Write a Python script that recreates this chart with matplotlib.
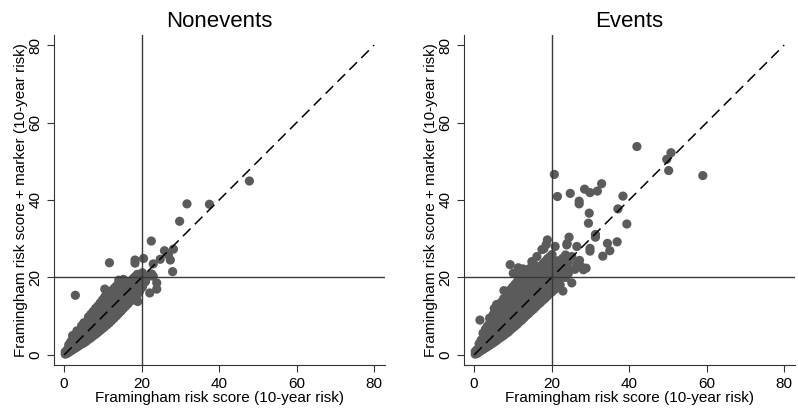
import matplotlib
matplotlib.use("Agg")
import matplotlib.pyplot as plt

# Framingham risk (x) vs Framingham + marker (y), 10-year risk in %
nonevent_pts = [
    (0.3, 0.2), (0.3, 0.8), (0.8, 0.4), (0.8, 1.3),
    (1.2, 0.7), (1.2, 1.8), (1.2, 2.6), (1.7, 1.0), (1.7, 2.2), (1.7, 3.4),
    (2.2, 1.3), (2.2, 2.6), (2.2, 4.0), (2.2, 5.0), (2.8, 1.7), (2.8, 3.0), (2.8, 4.4),
    (3.3, 2.0), (3.3, 3.5), (3.3, 5.2), (3.3, 6.2), (3.9, 2.4), (3.9, 4.0), (3.9, 5.6),
    (4.5, 2.8), (4.5, 4.5), (4.5, 6.2), (4.5, 7.5), (5.1, 3.1), (5.1, 5.0), (5.1, 6.8), (5.1, 8.3),
    (5.7, 3.5), (5.7, 5.6), (5.7, 7.4), (6.3, 4.0), (6.3, 6.0), (6.3, 8.0), (6.3, 9.8),
    (6.9, 4.4), (6.9, 6.6), (6.9, 8.6), (6.9, 10.5), (7.5, 4.9), (7.5, 7.2), (7.5, 9.2), (7.5, 11.2),
    (8.1, 5.3), (8.1, 7.8), (8.1, 9.8), (8.1, 12.0), (8.7, 5.8), (8.7, 8.3), (8.7, 10.4), (8.7, 12.6),
    (9.3, 6.3), (9.3, 8.9), (9.3, 11.0), (9.3, 13.4), (9.9, 6.8), (9.9, 9.4), (9.9, 11.6), (9.9, 14.2),
    (10.5, 7.3), (10.5, 10.0), (10.5, 12.3), (10.5, 15.0), (10.5, 17.0),
    (11.1, 7.8), (11.1, 10.6), (11.1, 13.0), (11.1, 15.5), (11.7, 8.3), (11.7, 11.2), (11.7, 13.6), (11.7, 16.0),
    (12.3, 8.9), (12.3, 11.8), (12.3, 14.2), (12.3, 16.6), (12.9, 9.5), (12.9, 12.4), (12.9, 14.8), (12.9, 17.2),
    (13.5, 10.1), (13.5, 13.0), (13.5, 15.4), (13.5, 17.8), (14.1, 10.7), (14.1, 13.6), (14.1, 16.0), (14.1, 18.4),
    (14.1, 19.3), (14.7, 11.3), (14.7, 14.2), (14.7, 16.6), (14.7, 18.9),
    (15.3, 12.0), (15.3, 14.8), (15.3, 17.2), (15.3, 19.5), (15.9, 12.6), (15.9, 15.4), (15.9, 17.8),
    (16.5, 13.2), (16.5, 16.0), (16.5, 18.4), (17.1, 13.9), (17.1, 16.6), (17.1, 19.0),
    (17.7, 14.5), (17.7, 17.2), (17.7, 19.6), (18.3, 14.2), (18.3, 17.8), (18.3, 20.2),
    (18.9, 15.5), (18.9, 18.4), (18.9, 20.8), (19.5, 16.5), (19.5, 19.0),
    (1.0, 1.0), (1.5, 1.6), (2.0, 3.3), (2.5, 2.0), (2.5, 3.7), (3.0, 4.9), (3.6, 3.0), (3.6, 4.7),
    (4.2, 3.5), (4.2, 5.3), (4.8, 4.0), (4.8, 5.8), (4.8, 7.2), (5.4, 4.2), (5.4, 6.2),
    (6.0, 4.8), (6.0, 6.8), (6.0, 8.8), (6.6, 5.2), (6.6, 7.4), (6.6, 9.3), (7.2, 6.0), (7.2, 8.0),
    (7.2, 10.1), (7.8, 6.5), (7.8, 8.6), (7.8, 10.6), (8.4, 6.9), (8.4, 9.1), (8.4, 11.3),
    (9.0, 7.3), (9.0, 9.7), (9.0, 12.0), (9.6, 7.9), (9.6, 10.3), (9.6, 12.6), (10.2, 8.5), (10.2, 11.0),
    (10.2, 13.5), (10.8, 9.0), (10.8, 11.6), (10.8, 14.0), (11.4, 9.3), (11.4, 12.2), (11.4, 14.7),
    (12.0, 10.2), (12.0, 12.9), (12.0, 15.4), (12.6, 10.6), (12.6, 13.5), (12.6, 16.0),
    (13.2, 11.4), (13.2, 14.1), (13.2, 16.6), (13.8, 12.0), (13.8, 14.6), (13.8, 17.0),
    (14.4, 12.4), (14.4, 15.2), (14.4, 17.6), (15.0, 13.2), (15.0, 15.9), (15.0, 18.3),
    (15.6, 13.8), (15.6, 16.5), (15.6, 18.8), (16.2, 14.6), (16.2, 17.1), (16.8, 15.0), (16.8, 17.6),
    (17.4, 15.6), (17.4, 18.2), (18.0, 16.3), (18.0, 18.8), (18.6, 16.9), (18.6, 19.5),
    (19.2, 17.6), (19.8, 18.2), (19.0, 13.8),
    (20.2, 17.5), (20.2, 19.8), (20.2, 21.2), (20.8, 18.8), (21.0, 19.0), (21.6, 20.2),
    (22.1, 16.0), (22.6, 20.9), (23.9, 18.6), (23.9, 17.0), (23.0, 20.3),
    (2.9, 15.4), (11.7, 23.8), (18.3, 24.5), (18.3, 23.7), (20.5, 24.9), (22.5, 29.4),
    (23.0, 23.5), (24.8, 24.7), (25.9, 26.9), (28.2, 27.3), (26.9, 25.8), (27.4, 24.5),
    (28.0, 21.5), (29.8, 34.5), (31.7, 39.0), (37.5, 38.9), (47.8, 44.9),
]

event_pts = [
    (0.3, 0.2), (0.3, 0.9), (0.8, 0.4), (0.8, 1.4),
    (1.3, 0.8), (1.3, 1.9), (1.3, 2.9), (1.5, 9.0), (1.8, 1.1), (1.8, 2.4), (1.8, 3.8),
    (2.3, 1.4), (2.3, 2.9), (2.3, 4.4), (2.3, 5.6), (2.9, 1.8), (2.9, 3.4), (2.9, 5.0), (2.9, 6.6),
    (3.4, 2.1), (3.4, 3.9), (3.4, 5.7), (3.4, 7.4), (4.0, 2.5), (4.0, 4.4), (4.0, 6.3), (4.0, 8.2), (4.0, 9.5),
    (4.6, 2.9), (4.6, 4.9), (4.6, 6.9), (4.6, 8.8), (5.2, 3.3), (5.2, 5.5), (5.2, 7.6), (5.2, 9.6), (5.2, 12.0),
    (5.8, 3.7), (5.8, 6.0), (5.8, 8.2), (5.8, 10.3), (5.8, 13.0), (6.4, 4.2), (6.4, 6.6), (6.4, 8.9),
    (6.4, 11.0), (6.4, 12.5), (7.0, 4.6), (7.0, 7.2), (7.0, 9.5), (7.0, 11.6), (7.0, 13.6),
    (7.6, 5.0), (7.6, 7.8), (7.6, 10.1), (7.6, 12.3), (7.6, 14.5), (7.7, 16.6),
    (8.2, 5.5), (8.2, 8.4), (8.2, 10.8), (8.2, 13.0), (8.2, 15.0), (8.8, 5.9), (8.8, 9.0), (8.8, 11.4),
    (8.8, 13.6), (8.8, 16.0), (9.3, 6.4), (9.3, 9.5), (9.3, 12.0), (9.3, 14.3), (9.3, 16.8), (9.3, 23.3),
    (9.9, 6.9), (9.9, 10.1), (9.9, 12.6), (9.9, 15.0), (9.9, 17.5), (10.1, 21.1),
    (10.5, 7.4), (10.5, 10.7), (10.5, 13.2), (10.5, 15.6), (10.5, 18.2),
    (11.1, 7.9), (11.1, 11.3), (11.1, 13.9), (11.1, 16.3), (11.1, 18.9), (11.4, 22.5),
    (11.7, 8.5), (11.7, 11.9), (11.7, 14.5), (11.7, 17.0), (11.7, 19.5),
    (12.3, 9.0), (12.3, 12.5), (12.3, 15.1), (12.3, 17.7), (12.3, 20.2), (12.6, 22.2),
    (12.9, 9.6), (12.9, 13.1), (12.9, 15.8), (12.9, 18.4), (12.9, 21.0),
    (13.5, 10.2), (13.5, 13.7), (13.5, 16.4), (13.5, 19.1), (13.5, 21.5),
    (14.1, 10.7), (14.1, 14.3), (14.1, 17.0), (14.1, 19.7), (14.1, 22.2),
    (14.7, 11.3), (14.7, 14.9), (14.7, 17.7), (14.7, 20.4), (14.9, 24.1),
    (15.3, 11.8), (15.3, 15.5), (15.3, 18.3), (15.3, 21.0), (15.3, 23.6), (16.2, 25.4),
    (15.9, 12.4), (15.9, 16.1), (15.9, 19.0), (15.9, 21.6), (16.5, 13.0), (16.5, 16.7), (16.5, 19.6),
    (16.5, 22.3), (17.1, 13.5), (17.1, 17.3), (17.1, 20.2), (17.1, 22.9),
    (17.7, 14.1), (17.7, 17.9), (17.7, 20.8), (17.7, 23.5), (17.5, 27.2),
    (18.3, 14.6), (18.3, 18.5), (18.3, 21.4), (18.3, 24.1), (18.0, 27.4), (18.6, 28.5), (18.9, 29.7),
    (18.9, 15.2), (18.9, 19.0), (18.9, 22.0), (18.9, 24.8), (19.5, 15.8), (19.5, 19.6), (19.5, 22.6),
    (19.5, 25.3), (20.1, 16.3), (20.1, 20.2), (20.1, 23.2), (20.1, 25.9), (20.9, 28.0),
    (20.8, 16.9), (20.8, 20.8), (20.8, 23.8), (21.5, 17.5), (21.5, 21.4), (21.5, 24.3),
    (22.2, 18.1), (22.2, 22.0), (22.2, 19.8), (22.9, 16.5), (22.9, 22.6), (22.9, 25.0),
    (23.6, 20.0), (23.6, 23.2), (23.6, 25.8), (24.3, 21.0), (24.3, 23.8), (25.2, 18.6),
    (1.0, 1.1), (1.5, 1.6), (1.5, 2.6), (2.0, 2.0), (2.0, 3.3), (2.6, 2.3), (2.6, 4.0), (2.6, 5.6),
    (3.1, 2.8), (3.1, 4.5), (3.1, 6.2), (3.7, 3.2), (3.7, 5.0), (3.7, 6.9), (4.3, 3.6), (4.3, 5.5),
    (4.3, 7.5), (4.9, 4.0), (4.9, 6.1), (4.9, 8.1), (4.9, 10.4), (5.5, 4.5), (5.5, 6.8), (5.5, 8.9),
    (5.5, 11.2), (6.1, 5.0), (6.1, 7.4), (6.1, 9.6), (6.1, 11.8), (6.7, 5.4), (6.7, 8.0), (6.7, 10.2),
    (6.7, 12.4), (7.3, 5.9), (7.3, 8.5), (7.3, 10.8), (7.3, 13.0), (7.9, 6.4), (7.9, 9.1), (7.9, 11.4),
    (7.9, 13.7), (8.5, 6.8), (8.5, 9.7), (8.5, 12.1), (8.5, 14.3), (9.1, 7.3), (9.1, 10.3), (9.1, 12.7),
    (9.1, 15.2), (9.6, 7.9), (9.6, 10.9), (9.6, 13.4), (9.6, 15.9), (10.2, 8.4), (10.2, 11.6),
    (10.2, 14.0), (10.2, 16.5), (10.8, 8.9), (10.8, 12.2), (10.8, 14.7), (10.8, 17.2), (11.4, 9.4),
    (11.4, 12.8), (11.4, 15.3), (11.4, 17.8), (11.4, 20.3), (12.0, 10.0), (12.0, 13.4), (12.0, 16.0),
    (12.0, 18.5), (12.6, 10.6), (12.6, 14.0), (12.6, 16.7), (12.6, 19.2), (13.2, 11.1), (13.2, 14.6),
    (13.2, 17.3), (13.2, 19.9), (13.8, 11.7), (13.8, 15.2), (13.8, 18.0), (13.8, 20.6), (14.4, 12.2),
    (14.4, 15.8), (14.4, 18.6), (14.4, 21.2), (15.0, 12.8), (15.0, 16.5), (15.0, 19.3), (15.0, 22.0),
    (15.6, 13.4), (15.6, 17.1), (15.6, 19.9), (15.6, 22.6), (16.2, 14.0), (16.2, 17.7), (16.2, 20.5),
    (16.8, 14.5), (16.8, 18.3), (16.8, 21.2), (17.4, 15.1), (17.4, 18.9), (17.4, 21.8), (18.0, 15.6),
    (18.0, 19.5), (18.0, 22.4), (18.6, 16.2), (18.6, 20.1), (18.6, 23.0), (19.2, 16.8), (19.2, 20.6),
    (19.2, 23.6), (19.8, 17.3), (19.8, 21.2), (19.8, 24.2), (20.5, 17.9), (20.5, 21.8), (21.2, 18.6),
    (21.2, 22.4), (21.9, 19.2), (21.9, 23.0), (22.6, 21.0), (23.2, 22.0), (24.0, 22.5),
    (26.5, 23.5), (27.7, 22.7), (28.9, 22.4), (27.2, 24.4), (26.0, 22.1), (28.2, 22.0),
    (23.9, 28.4), (24.0, 28.8), (24.5, 30.4), (25.2, 25.4), (26.5, 28.0), (29.9, 27.5), (29.9, 26.8),
    (31.3, 31.1), (31.3, 30.4), (33.2, 25.5), (34.4, 28.8), (35.0, 26.9), (36.9, 29.2),
    (29.5, 34.0), (29.7, 36.6), (39.4, 33.8), (37.1, 37.7), (38.4, 41.0),
    (27.1, 39.7), (27.1, 39.0), (24.8, 41.7), (21.5, 40.9), (28.5, 42.8), (29.9, 41.9),
    (31.8, 42.3), (32.9, 44.2), (20.7, 46.6),
    (42.0, 53.8), (50.8, 52.2), (49.7, 50.5), (50.2, 47.6), (59.0, 46.3),
]

titles = ["Nonevents", "Events"]
xlabel = "Framingham risk score (10-year risk)"
ylabel = "Framingham risk score + marker (10-year risk)"
ticks = [0, 20, 40, 60, 80]
cutoff = 20

plt.rcParams['font.family'] = ['Liberation Sans', 'DejaVu Sans']

fig = plt.figure(figsize=(7.98, 4.15), dpi=100)
positions = [[0.0677, 0.1205, 0.4148, 0.7952], [0.5815, 0.1205, 0.4148, 0.7952]]

for pos, title, pts in zip(positions, titles, [nonevent_pts, event_pts]):
    ax = fig.add_axes(pos)
    xs = [p[0] for p in pts]
    ys = [p[1] for p in pts]
    ax.scatter(xs, ys, s=44, color='#5b5b5b', edgecolors='none', zorder=2)
    ax.plot([0, 80], [0, 80], color='black', lw=1.1, dashes=(7, 4), zorder=3)
    ax.axvline(cutoff, color='#3a3a3a', lw=1.0, zorder=3)
    ax.axhline(cutoff, color='#3a3a3a', lw=1.0, zorder=3)

    ax.set_xlim(-2.6, 82.8)
    ax.set_ylim(-2.6, 82.6)
    ax.set_xticks(ticks)
    ax.set_yticks(ticks)
    ax.tick_params(direction='out', length=5, width=0.8, colors='#333333',
                   labelsize=11, labelcolor='black', pad=3.5)
    for lab in ax.get_yticklabels():
        lab.set_rotation(90)
        lab.set_va('center')
    for side in ['top', 'right']:
        ax.spines[side].set_visible(False)
    for side in ['left', 'bottom']:
        ax.spines[side].set_color('#333333')
        ax.spines[side].set_linewidth(0.8)

    ax.set_title(title, fontsize=16, pad=6)
    ax.set_xlabel(xlabel, fontsize=11, labelpad=0.5)
    ax.set_ylabel(ylabel, fontsize=11, labelpad=0)

fig.savefig("out.png", dpi=100)
